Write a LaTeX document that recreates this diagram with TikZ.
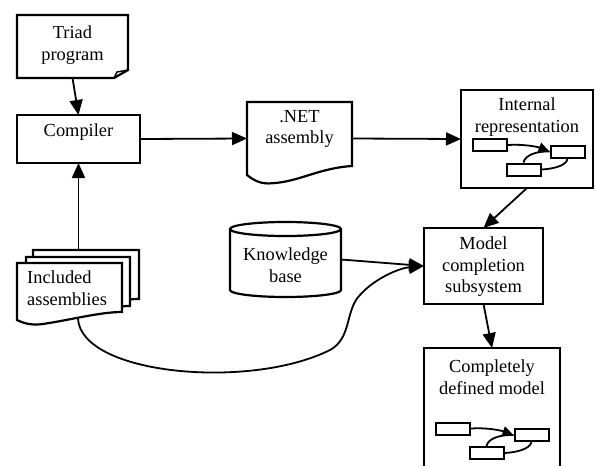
\documentclass[tikz,border=0pt]{standalone}
\usepackage{fontspec}
\setmainfont{Liberation Serif}
\usetikzlibrary{arrows.meta}
\begin{document}
\begin{tikzpicture}[x=1pt,y=-1pt,
  outlined/.style={draw,line width=2.2pt,fill=white},
  anchorbox/.style={inner sep=0pt,outer sep=0pt},
  lbl/.style={align=center,inner sep=0pt,font=\fontsize{18.4}{21.5}\selectfont},
  conn/.style={line width=1.8pt,-{Triangle[length=15pt,width=13pt]}},
  mini/.style={draw,line width=2pt,fill=white,minimum width=34pt,minimum height=12pt,inner sep=0pt},
  miniarr/.style={line width=1.8pt,-{Triangle[length=11pt,width=10pt]}},
  plainline/.style={line width=1.8pt}]
\useasboundingbox (0,0) rectangle (595,466);

% ---- Triad program (folded corner) ----
\path[outlined] (17,15) -- (128,15) -- (128,70) -- (114,78) -- (17,78) -- cycle;
\draw[line width=1.4pt] (114,78) -- (117,72) -- (128,70);
\node[anchorbox,minimum width=111pt,minimum height=63pt] (triad) at (72.5,46.5) {};
\node[lbl] (triadtxt) at (72.5,45) {Triad\\program};

% ---- Compiler ----
\node[anchorbox,draw,line width=2.2pt,minimum width=123pt,minimum height=48pt] (compiler) at (78.5,139) {};
\node[lbl] (compilertxt) at (78.5,132) {Compiler};

% ---- .NET assembly (document) ----
\path[outlined] (247,102) -- (352,102) -- (352,166)
  .. controls (320,168) and (300,181) .. (275,183)
  .. controls (266,184) and (258,184) .. (247,175) -- cycle;
\node[anchorbox,minimum width=105pt,minimum height=73pt] (net) at (299.5,138.5) {};
\node[lbl] (nettxt) at (299.5,129) {.NET\\assembly};

% ---- Internal representation ----
\node[anchorbox,draw,line width=2.2pt,minimum width=132pt,minimum height=98pt] (internal) at (527,139) {};
\node[lbl] (internaltxt) at (527,117) {Internal\\representation};
\begin{scope}[shift={(490,145)}]
  \node[mini] (ia) at (0,0) {};
  \node[mini] (ib) at (77.5,6.5) {};
  \node[mini] (ic) at (33.5,24.5) {};
  \draw[miniarr] (ia.east) .. controls (35,-1) and (48,2) .. (ib.west);
  \draw[plainline] (ic.north) .. controls (35,10) and (47,6) .. (ib.west);
  \draw[plainline] (ib.south) .. controls (77,21) and (62,24) .. (ic.east);
\end{scope}

% ---- Knowledge base (cylinder) ----
\path[outlined] (230,229) -- (230,290)
  arc[start angle=180,end angle=360,x radius=55.5pt,y radius=7pt]
  -- (341,229)
  arc[start angle=0,end angle=180,x radius=55.5pt,y radius=7pt] -- cycle;
\draw[line width=2.2pt] (230,229) arc[start angle=180,end angle=360,x radius=55.5pt,y radius=7pt];
\node[anchorbox,minimum width=111pt,minimum height=75pt] (kb) at (285.5,259.5) {};
\node[lbl] (kbtxt) at (285.5,265) {Knowledge\\base};

% ---- Model completion subsystem ----
\node[anchorbox,draw,line width=2.2pt,minimum width=119pt,minimum height=76pt] (model) at (483.5,266) {};
\node[lbl] (modeltxt) at (483.5,267) {Model\\completion\\subsystem};

% ---- Completely defined model (open at bottom) ----
\draw[line width=2.2pt] (424,470) -- (424,348) -- (560,348) -- (560,470);
\node[anchorbox,minimum width=136pt,minimum height=0pt] (complete) at (492,348) {};
\node[lbl] (completetxt) at (492,377) {Completely\\defined model};
\begin{scope}[shift={(453,428.5)}]
  \node[mini] (ca) at (0,0) {};
  \node[mini] (cb) at (78.5,6.5) {};
  \node[mini] (cc) at (33.5,24.5) {};
  \draw[miniarr] (ca.east) .. controls (35,-1) and (48,2) .. (cb.west);
  \draw[plainline] (cc.north) .. controls (35,10) and (47,6) .. (cb.west);
  \draw[plainline] (cb.south) .. controls (77,21) and (62,24) .. (cc.east);
\end{scope}

% ---- Included assemblies (stacked documents) ----
\path[outlined] (33,250) -- (139,250) -- (139,299)
  .. controls (117,299) and (87,307) .. (60,311)
  .. controls (50,312) and (42,312) .. (33,307) -- cycle;
\path[outlined] (26,257) -- (130,257) -- (130,306)
  .. controls (108,306) and (78,314) .. (52,318)
  .. controls (42,319) and (34,319) .. (26,314) -- cycle;
\path[outlined] (17,263) -- (122,263) -- (122,312)
  .. controls (100,312) and (70,320) .. (43,324)
  .. controls (35,325) and (27,325) .. (17,320) -- cycle;
\node[anchorbox,minimum width=106pt,minimum height=49pt] (inclback) at (86,274.5) {};
\node[lbl,align=left,anchor=west] (incltxt) at (27,288) {Included\\assemblies};
\coordinate (inclbot) at (78,319);

% ---- connectors ----
\draw[conn] (triad.south) -- (compiler.north);
\draw[conn] (compiler.south |- inclback.north) -- (compiler.south);
\draw[conn] (compiler.east) -- (net.west);
\draw[conn] (net.east) -- (internal.west);
\draw[conn] (internal.south) -- (model.north);
\draw[conn] (model.south) -- (complete.north);
\draw[conn] (kb.east) -- (model.west);
\draw[conn] (inclbot) .. controls (82,375) and (250,390) .. (330,350)
  .. controls (352,338) and (345,310) .. (360,295)
  .. controls (375,278) and (400,268) .. (model.west);
\end{tikzpicture}
\end{document}
